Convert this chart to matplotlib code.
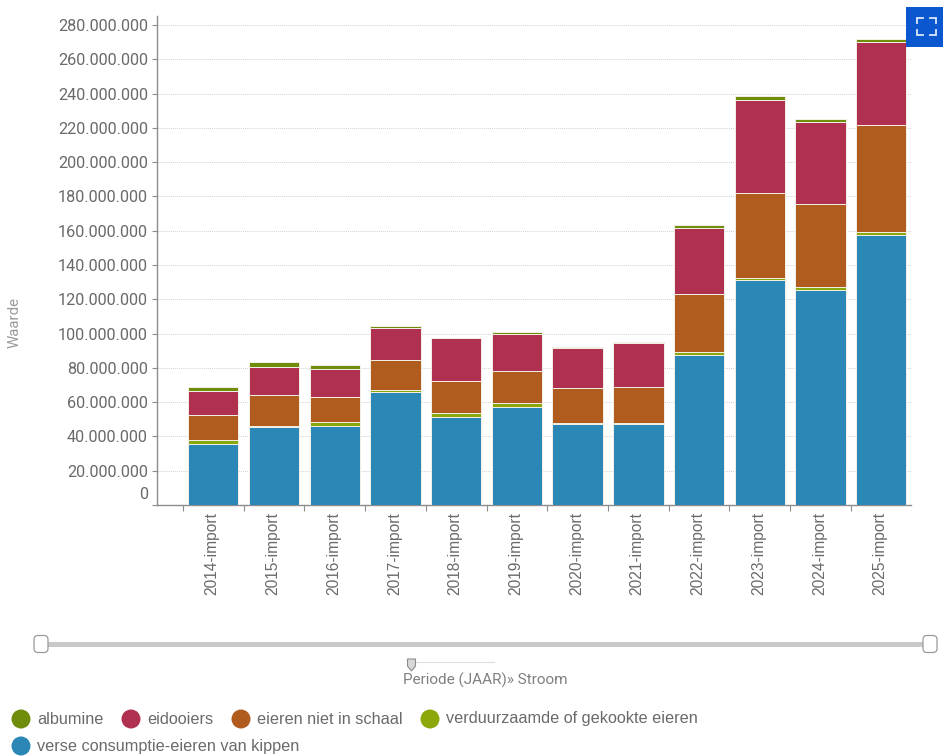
import matplotlib
matplotlib.use("Agg")
import matplotlib.pyplot as plt
import numpy as np
from matplotlib.patches import Circle, FancyBboxPatch, Polygon, Rectangle
from matplotlib.ticker import FixedLocator, FuncFormatter
from matplotlib.transforms import ScaledTranslation

categories = ["2014-import", "2015-import", "2016-import", "2017-import", "2018-import", "2019-import",
              "2020-import", "2021-import", "2022-import", "2023-import", "2024-import", "2025-import"]

# waarden in miljoenen
verse = [35.6, 45.3, 46.1, 66.1, 51.5, 57.4, 47.3, 47.3, 87.5, 131.3, 125.4, 157.5]
verduurzaamd = [2.3, 0.5, 2.5, 1.0, 2.0, 1.9, 0.7, 0.7, 1.5, 1.0, 2.0, 2.0]
niet_in_schaal = [14.6, 18.4, 14.6, 17.5, 18.8, 19.1, 20.0, 20.7, 33.9, 49.6, 48.2, 62.2]
eidooiers = [14.0, 16.5, 16.0, 18.5, 25.0, 21.4, 23.6, 26.0, 38.9, 54.4, 47.7, 48.3]
albumine = [2.5, 2.9, 2.5, 1.3, 0.4, 0.9, 0.4, 0.4, 1.4, 2.5, 1.9, 2.1]

y_ticks = list(range(0, 281, 20))
series_names = ["verse consumptie-eieren van kippen", "verduurzaamde of gekookte eieren",
                "eieren niet in schaal", "eidooiers", "albumine"]
series_values = [verse, verduurzaamd, niet_in_schaal, eidooiers, albumine]
series_colors = ["#2b87b5", "#8aa80a", "#b05c1e", "#b03050", "#6f8c0a"]

TEXT = "#6a6a6a"
W, H = 943, 756


def dotted(value, _pos):
    return f"{int(value):,}".replace(",", ".")


fig = plt.figure(figsize=(W / 100, H / 100), dpi=100, facecolor="white")
ax = fig.add_axes([157 / W, 1 - 505 / H, (911 - 157) / W, (505 - 16) / H])

x = np.arange(len(categories))
bottom = np.zeros(len(categories))
for values, color in zip(series_values, series_colors):
    values = np.array(values) * 1e6
    ax.bar(x, values, 0.83, bottom=bottom, color=color, edgecolor="#f4f0e8", linewidth=0.7, zorder=3)
    bottom += values

ax.set_xlim(-0.927, 11.49)
ax.set_ylim(0, 285.3e6)
ax.set_yticks([v * 1e6 for v in y_ticks])
ax.yaxis.set_major_formatter(FuncFormatter(dotted))
ax.grid(axis="y", color="#d2d2d2", linestyle=(0, (1, 1)), linewidth=0.7, zorder=0)
ax.set_axisbelow(True)
for side in ["top", "right"]:
    ax.spines[side].set_visible(False)
for side in ["left", "bottom"]:
    ax.spines[side].set_color("#8c8c8c")
    ax.spines[side].set_linewidth(1.0)
ax.tick_params(axis="y", length=3.6, width=0.8, color="#8c8c8c", labelcolor=TEXT, pad=3)
for label in ax.get_yticklabels():
    label.set_fontfamily("Roboto")
    label.set_fontsize(11.7)
zero = ax.get_yticklabels()[0]
zero.set_transform(zero.get_transform() + ScaledTranslation(0, 12 / 100, fig.dpi_scale_trans))

ax.xaxis.set_major_locator(FixedLocator(x - 0.5))
ax.xaxis.set_major_formatter(FuncFormatter(lambda v, p: ""))
ax.tick_params(axis="x", length=4.5, width=0.8, color="#8c8c8c")
for pos, name in zip(x, categories):
    ax.annotate(name, (pos, 0), xycoords=("data", "axes fraction"), xytext=(-0.8, -5), textcoords="offset points",
                rotation=90, ha="center", va="top", fontsize=11.2, color=TEXT, family="Liberation Sans")

# overlay in pixels voor knop, schuifbalk en legenda
ui = fig.add_axes([0, 0, 1, 1], facecolor="none", zorder=5)
ui.set_xlim(0, W)
ui.set_ylim(H, 0)
ui.axis("off")

ui.text(15, 322, "Waarde", rotation=90, ha="center", va="center", fontsize=10.8, color="#9a9a9a", family="Roboto")

ui.add_patch(Rectangle((906, 7), 37, 39.5, color="#0b57cf", lw=0))
for cx, cy, dx, dy in [(917, 17.5, 1, 1), (936, 17.5, -1, 1), (917, 35, 1, -1), (936, 35, -1, -1)]:
    ui.plot([cx + 6 * dx, cx, cx], [cy, cy, cy + 5 * dy], color="#dce8fa", lw=1.3, solid_joinstyle="miter")

ui.add_patch(Rectangle((42, 641.5), 888, 5, color="#c9c9c9", lw=0))
for hx in [41, 930]:
    ui.add_patch(FancyBboxPatch((hx - 5.5, 637), 11, 14, boxstyle="round,pad=1.5,rounding_size=4",
                                fc="white", ec="#9a9a9a", lw=0.9, zorder=4))
ui.plot([416, 494], [662, 662], color="#dddddd", lw=0.8)
ui.add_patch(Polygon([(407.5, 659), (415.5, 659), (415.5, 666), (411.5, 671), (407.5, 666)],
                     closed=True, fc="#d8d8d8", ec="#8c8c8c", lw=0.8))
ui.text(485, 680, "Periode (JAAR)\u00bb Stroom", ha="center", va="center", fontsize=11.0, color="#808080",
        family="Roboto")

legend_names = ["albumine", "eidooiers", "eieren niet in schaal", "verduurzaamde of gekookte eieren",
                "verse consumptie-eieren van kippen"]
legend_colors = ["#6f8c0a", "#b03050", "#b05c1e", "#8aa80a", "#2b87b5"]
legend_x = [21, 131, 241, 430, 21]
legend_y = [719, 719, 719, 719, 746]
for name, color, lx, ly in zip(legend_names, legend_colors, legend_x, legend_y):
    ui.add_patch(Circle((lx, ly), 9.5, color=color, lw=0))
    ui.text(lx + 16, ly, name, ha="left", va="center", fontsize=11.7, color=TEXT, family="Liberation Sans")

fig.savefig("out.png", dpi=100)
plt.close(fig)
